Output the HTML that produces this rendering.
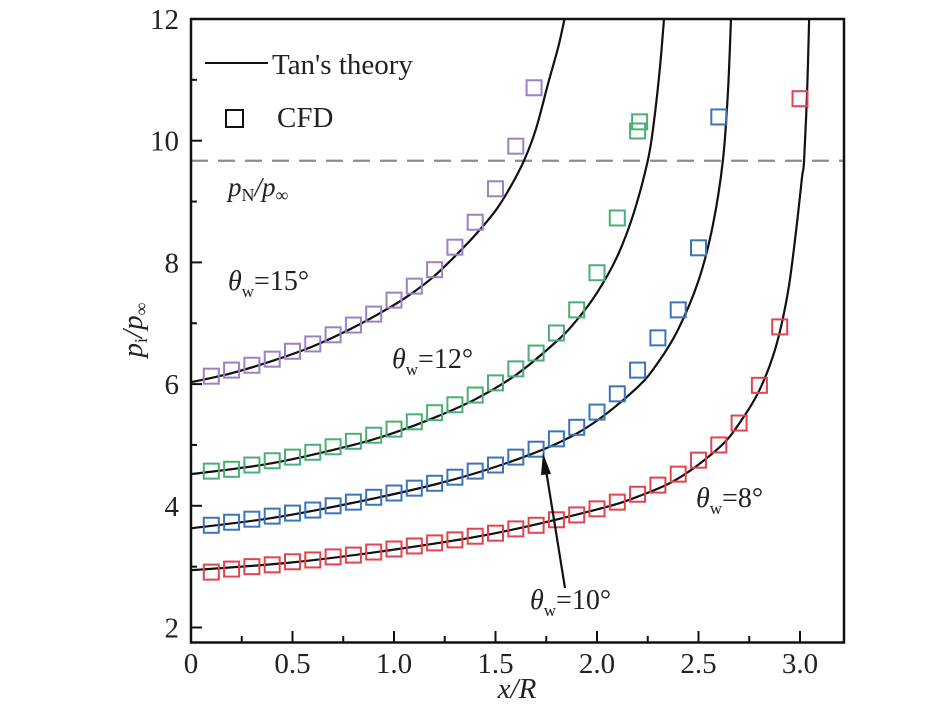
<!DOCTYPE html>
<html><head><meta charset="utf-8"><style>
html,body{margin:0;padding:0;background:#fff;}
svg text{font-family:"Liberation Serif","Times New Roman","DejaVu Serif",serif;fill:#222;}
</style></head><body>
<svg id="chart" width="945" height="711" viewBox="0 0 945 711" xmlns="http://www.w3.org/2000/svg" font-family="Liberation Serif, serif">
<g id="marks"></g>
<rect x="191" y="19" width="653" height="623.5" fill="none" stroke="#111" stroke-width="2.5"/>
<g id="axes"></g>
<g>
<line x1="205" y1="63" x2="268" y2="63" stroke="#111" stroke-width="2"/>
<text x="272" y="74" font-size="29" font-family="Liberation Serif, serif">Tan's theory</text>
<rect x="226" y="110" width="17" height="17" fill="none" stroke="#111" stroke-width="2"/>
<text x="277" y="127" font-size="29" font-family="Liberation Serif, serif">CFD</text>
</g>
<text x="228" y="196" font-size="27" font-style="italic" font-family="Liberation Serif, serif">p<tspan font-size="18" font-style="normal" dy="5">N</tspan><tspan dy="-5">/p</tspan><tspan font-size="18" font-style="normal" dy="5">∞</tspan></text>
<text x="228" y="290" font-size="28" font-family="Liberation Serif, serif"><tspan font-style="italic">θ</tspan><tspan font-size="17" dy="7">w</tspan><tspan dy="-7">=15°</tspan></text>
<text x="392" y="368" font-size="28" font-family="Liberation Serif, serif"><tspan font-style="italic">θ</tspan><tspan font-size="17" dy="7">w</tspan><tspan dy="-7">=12°</tspan></text>
<text x="696" y="507" font-size="28" font-family="Liberation Serif, serif"><tspan font-style="italic">θ</tspan><tspan font-size="17" dy="7">w</tspan><tspan dy="-7">=8°</tspan></text>
<text x="530" y="609" font-size="28" font-family="Liberation Serif, serif"><tspan font-style="italic">θ</tspan><tspan font-size="17" dy="7">w</tspan><tspan dy="-7">=10°</tspan></text>
<g>
<line x1="565" y1="588" x2="546" y2="470" stroke="#111" stroke-width="2.2"/>
<polygon points="543,453 551,474 541,475" fill="#111"/>
</g>
<text x="517" y="698" font-size="29" font-style="italic" text-anchor="middle" font-family="Liberation Serif, serif">x/R</text>
<text transform="translate(142,330) rotate(-90)" font-size="29" font-style="italic" text-anchor="middle" font-family="Liberation Serif, serif">p<tspan font-size="18" font-style="normal" dy="5">i</tspan><tspan dy="-5">/p</tspan><tspan font-size="18" font-style="normal" dy="5">∞</tspan></text>
</svg>
<script>
const xTicks=[0,0.5,1.0,1.5,2.0,2.5,3.0];
const xTickLabels=["0","0.5","1.0","1.5","2.0","2.5","3.0"];
const yTicks=[2,4,6,8,10,12];
const yTickLabels=["2","4","6","8","10","12"];
const refLine=9.67;
const cfdX15=[0.1,0.2,0.3,0.4,0.5,0.6,0.7,0.8,0.9,1.0,1.1,1.2,1.3,1.4,1.5,1.6,1.69];
const cfdY15=[6.13,6.23,6.31,6.41,6.54,6.66,6.81,6.97,7.15,7.38,7.61,7.88,8.25,8.66,9.21,9.91,10.87];
const cfdX12=[0.1,0.2,0.3,0.4,0.5,0.6,0.7,0.8,0.9,1.0,1.1,1.2,1.3,1.4,1.5,1.6,1.7,1.8,1.9,2.0,2.1,2.2,2.21];
const cfdY12=[4.57,4.6,4.67,4.74,4.8,4.88,4.97,5.06,5.16,5.26,5.38,5.53,5.66,5.82,6.02,6.25,6.51,6.84,7.22,7.83,8.73,10.16,10.31];
const cfdX10=[0.1,0.2,0.3,0.4,0.5,0.6,0.7,0.8,0.9,1.0,1.1,1.2,1.3,1.4,1.5,1.6,1.7,1.8,1.9,2.0,2.1,2.2,2.3,2.4,2.5,2.6];
const cfdY10=[3.68,3.73,3.78,3.83,3.88,3.93,4.0,4.06,4.14,4.21,4.29,4.37,4.47,4.57,4.67,4.8,4.93,5.1,5.29,5.54,5.84,6.23,6.76,7.22,8.24,10.39];
const cfdX8=[0.1,0.2,0.3,0.4,0.5,0.6,0.7,0.8,0.9,1.0,1.1,1.2,1.3,1.4,1.5,1.6,1.7,1.8,1.9,2.0,2.1,2.2,2.3,2.4,2.5,2.6,2.7,2.8,2.9,3.0];
const cfdY8=[2.91,2.96,3.0,3.03,3.08,3.11,3.16,3.19,3.24,3.29,3.34,3.39,3.44,3.5,3.55,3.62,3.68,3.77,3.85,3.95,4.06,4.19,4.34,4.52,4.75,5.0,5.36,5.98,6.94,10.69];
const thX15=[0,0.2,0.4,0.6,0.8,1.0,1.1,1.2,1.3,1.4,1.5,1.57,1.64,1.7,1.76,1.81,1.84];
const thY15=[6.03,6.18,6.38,6.62,6.93,7.3,7.52,7.78,8.1,8.45,8.85,9.22,9.67,10.2,10.95,11.55,12];
const thX12=[0,0.4,0.8,1.0,1.2,1.4,1.6,1.8,1.9,2.0,2.1,2.18,2.25,2.28,2.31,2.33];
const thY12=[4.52,4.7,5.0,5.2,5.45,5.75,6.15,6.7,7.05,7.5,8.1,8.8,9.67,10.3,11.2,12];
const thX10=[0,0.4,0.8,1.2,1.5,1.8,2.0,2.2,2.3,2.4,2.5,2.57,2.62,2.645,2.66];
const thY10=[3.63,3.8,4.05,4.35,4.64,5.02,5.4,5.95,6.35,6.9,7.7,8.6,9.67,10.8,12];
const thX8=[0,0.5,1.0,1.5,2.0,2.2,2.4,2.6,2.7,2.8,2.88,2.94,2.98,3.01,3.02,3.035,3.045];
const thY8=[2.94,3.07,3.28,3.55,3.94,4.15,4.45,4.95,5.35,5.9,6.6,7.5,8.5,9.4,9.67,10.8,12];

const NS="http://www.w3.org/2000/svg";
const X0=191,XS=203,Y0=19,YS=60.85,YMAX=12;
function sx(v){return X0+v*XS;}
function sy(v){return Y0+(YMAX-v)*YS;}
const marks=document.getElementById('marks');
const axes=document.getElementById('axes');
function mk(tag,attrs,parent){const e=document.createElementNS(NS,tag);for(const k in attrs)e.setAttribute(k,attrs[k]);parent.appendChild(e);return e;}

const dl=mk('line',{x1:191,x2:844,y1:sy(refLine),y2:sy(refLine),stroke:'#8c8c8c','stroke-width':2.2,'stroke-dasharray':'17,10'},marks);



const curves=[[thX15,thY15,'theory-15deg'],[thX12,thY12,'theory-12deg'],[thX10,thY10,'theory-10deg'],[thX8,thY8,'theory-8deg']];
curves.forEach(c=>{
  const pts=c[0].map((x,i)=>[sx(x),sy(c[1][i])]);
  let d='M'+pts[0][0]+','+pts[0][1];
  for(let i=0;i<pts.length-1;i++){
    const p0=pts[Math.max(0,i-1)],p1=pts[i],p2=pts[i+1],p3=pts[Math.min(pts.length-1,i+2)];
    const c1=[p1[0]+(p2[0]-p0[0])/6,p1[1]+(p2[1]-p0[1])/6];
    const c2=[p2[0]-(p3[0]-p1[0])/6,p2[1]-(p3[1]-p1[1])/6];
    d+=' C'+c1+' '+c2+' '+p2;
  }
  const p=mk('path',{d:d,fill:'none',stroke:'#111','stroke-width':2.2},marks);
  
  
});

const series=[[cfdX15,cfdY15,'#9b80c4','cfd-15deg'],[cfdX12,cfdY12,'#4bae74','cfd-12deg'],[cfdX10,cfdY10,'#3c74ba','cfd-10deg'],[cfdX8,cfdY8,'#e2434e','cfd-8deg']];
series.forEach(s=>{
  const g=mk('g',{},marks);
  
  
  s[0].forEach((x,i)=>{
    const r=mk('rect',{x:sx(x)-7.5,y:sy(s[1][i])-7.5,width:15,height:15,fill:'none',stroke:s[2],'stroke-width':2},g);
    
    
  });
});

for(let v=0;v<=3.2;v+=0.25){
  const major=Math.abs(v*2-Math.round(v*2))<1e-6;
  const t=mk('line',{x1:sx(v),x2:sx(v),y1:642,y2:major?631:636,stroke:'#111','stroke-width':2},axes);
  
  
}
xTicks.forEach((v,i)=>{
  const t=mk('text',{x:sx(v),y:673,'font-size':29,'text-anchor':'middle','font-family':'Liberation Serif, serif'},axes);
  t.textContent=xTickLabels[i];
  
  
});
for(let v=2;v<=12;v+=1){
  const major=v%2===0;
  const t=mk('line',{x1:191,x2:major?202:197,y1:sy(v),y2:sy(v),stroke:'#111','stroke-width':2},axes);
  
  
}
yTicks.forEach((v,i)=>{
  const t=mk('text',{x:179,y:sy(v)+10,'font-size':29,'text-anchor':'end','font-family':'Liberation Serif, serif'},axes);
  t.textContent=yTickLabels[i];
  
  
});
</script>
</body></html>
